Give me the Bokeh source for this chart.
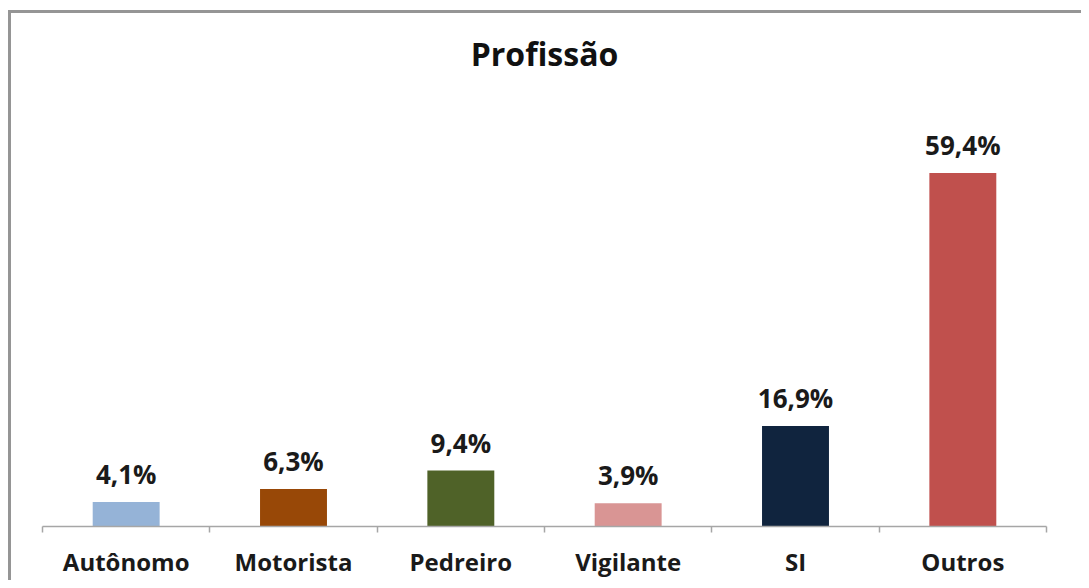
from bokeh.plotting import figure
from bokeh.models import ColumnDataSource, FixedTicker, Range1d
from bokeh.embed import file_html
from bokeh.resources import INLINE
from bokeh.core.properties import value

categories = ["Autônomo", "Motorista", "Pedreiro", "Vigilante", "SI", "Outros"]
values = [4.1, 6.3, 9.4, 3.9, 16.9, 59.4]
labels = ["4,1%", "6,3%", "9,4%", "3,9%", "16,9%", "59,4%"]
colors = ["#95b3d7", "#984807", "#4f6228", "#d99594", "#10243e", "#c0504d"]

xs = [i + 0.5 for i in range(len(categories))]
src = ColumnDataSource(dict(x=xs, top=values, label=labels, color=colors, cat=categories))

FONT = "Open Sans"

p = figure(width=1081, height=580, output_backend="svg", toolbar_location=None,
           x_range=Range1d(0, len(categories)), y_range=Range1d(0, 75.6),
           min_border_left=42, min_border_right=35, min_border_top=76, min_border_bottom=53)
p.border_fill_alpha = 0
p.background_fill_color = "white"
p.styles = {
    "background": "linear-gradient(#959595, #959595) 8px 10px / 3px 100% no-repeat, "
                  "linear-gradient(#959595, #959595) 8px 10px / 100% 3px no-repeat, white",
}

p.title.text = "Profissão"
p.title.align = "center"
p.title.offset = 8
p.title.text_font = FONT
p.title.text_font_size = "32px"
p.title.text_font_style = "bold"
p.title.text_color = "#111111"
p.title.standoff = 3

p.vbar(x="x", top="top", width=0.4, bottom=0, color="color", line_color=None, source=src)
p.text(x="x", y="top", text="label", source=src, text_align="center", text_baseline="bottom",
       y_offset=-10, text_font=value(FONT), text_font_size="26px", text_font_style="bold",
       text_color="#1a1a1a")

p.xgrid.visible = False
p.ygrid.visible = False
p.yaxis.visible = False
p.outline_line_color = None

ax = p.xaxis[0]
ax.ticker = FixedTicker(ticks=xs, minor_ticks=[float(i) for i in range(len(categories) + 1)])
ax.major_label_overrides = {x: c for x, c in zip(xs, categories)}
ax.major_tick_out = 0
ax.major_tick_in = 0
ax.minor_tick_out = 6
ax.minor_tick_in = 0
ax.minor_tick_line_color = "#a6a6a6"
ax.minor_tick_line_width = 1.5
ax.axis_line_color = "#a6a6a6"
ax.axis_line_width = 1.5
ax.major_label_text_font = FONT
ax.major_label_text_font_size = "24px"
ax.major_label_text_font_style = "bold"
ax.major_label_text_color = "#1a1a1a"
ax.major_label_standoff = 12

open("out.html", "w").write(file_html(p, INLINE))
